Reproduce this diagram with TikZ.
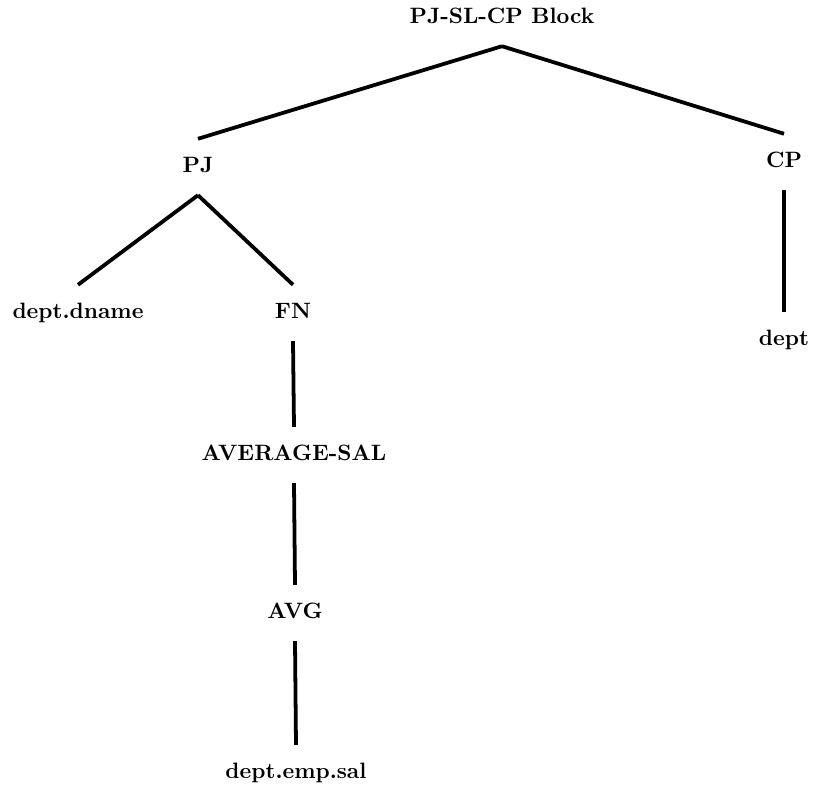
\documentclass[tikz,border=0pt]{standalone}
\usepackage{tikz}

\begin{document}
\begin{tikzpicture}[x=0.45pt, y=-0.45pt]
	\tikzstyle{Op}		= [font=\bfseries, text height=7pt, text depth=2pt, inner xsep=2pt, inner ysep=8pt]
	\tikzstyle{Branch}	= [line width=1.7pt]

	\useasboundingbox (0,0) rectangle (815,793);

	\node (root) at (502,18) [Op] {PJ-SL-CP Block};
	\node (pj) at (198,167) [Op] {PJ};
	\node (cp) at (784,162) [Op] {CP};
	\node (dname) at (78,313) [Op] {dept.dname};
	\node (fn) at (293,313) [Op] {FN};
	\node (dept) at (784,340) [Op] {dept};
	\node (avgsal) at (294,455) [Op] {AVERAGE-SAL};
	\node (avg) at (295,613) [Op] {AVG};
	\node (empsal) at (296,773) [Op] {dept.emp.sal};

	\draw [-] (root.south) to (pj.north) [Branch];
	\draw [-] (root.south) to (cp.north) [Branch];
	\draw [-] (pj.south) to (dname.north) [Branch];
	\draw [-] (pj.south) to (fn.north) [Branch];
	\draw [-] (cp.south) to (dept.north) [Branch];
	\draw [-] (fn.south) to (avgsal.north) [Branch];
	\draw [-] (avgsal.south) to (avg.north) [Branch];
	\draw [-] (avg.south) to (empsal.north) [Branch];
\end{tikzpicture}
\end{document}
